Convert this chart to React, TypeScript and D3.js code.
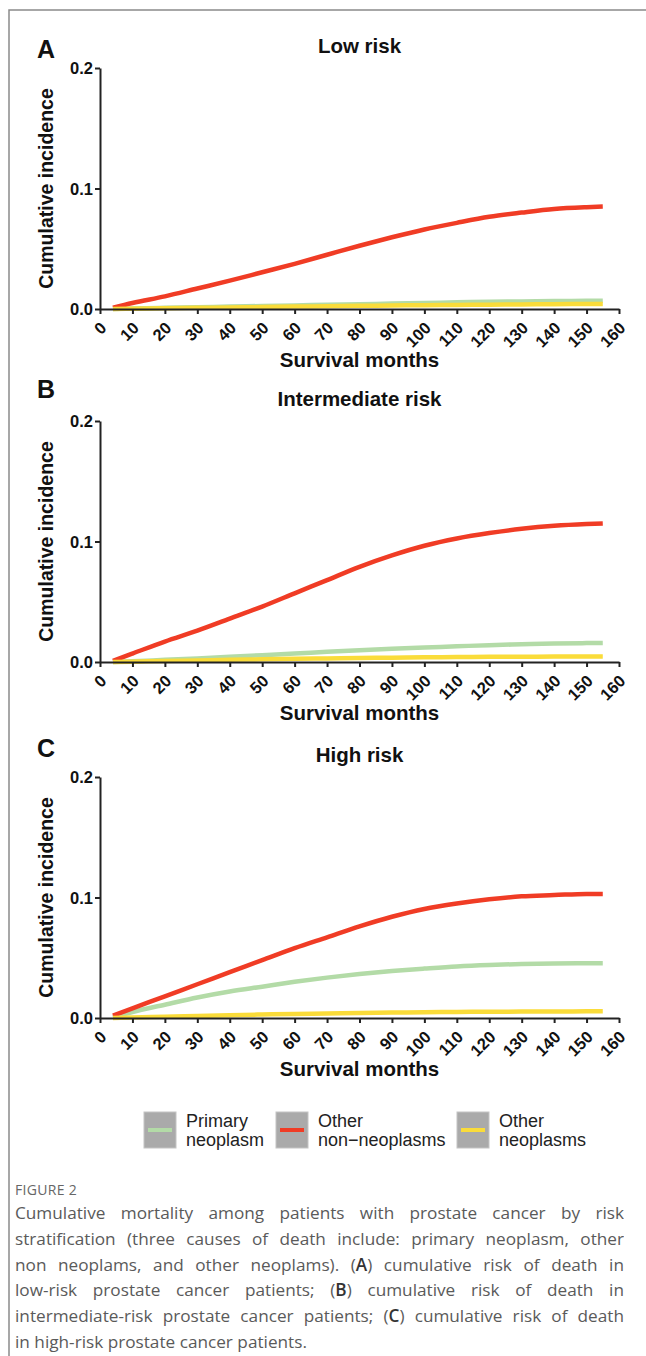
import { useEffect, useRef } from "react";
import * as d3 from "d3";

// survival months at which the curves were read
const months = [4, 10, 20, 30, 40, 50, 60, 70, 80, 90, 100, 110, 120, 130, 140, 150, 155];

const xTicks = [0, 10, 20, 30, 40, 50, 60, 70, 80, 90, 100, 110, 120, 130, 140, 150, 160];
const yTicks = [0, 0.1, 0.2];

const seriesNames = ["Primary neoplasm", "Other non\u2212neoplasms", "Other neoplasms"];
const legendLines = [["Primary", "neoplasm"], ["Other", "non\u2212neoplasms"], ["Other", "neoplasms"]];

// A - low risk
const lowPrimary = [0, 0.0005, 0.001, 0.0015, 0.002, 0.0025, 0.003, 0.0035, 0.004, 0.0045, 0.005, 0.0055, 0.006, 0.0063, 0.0066, 0.0068, 0.0069];
const lowOtherNon = [0.001, 0.005, 0.0105, 0.017, 0.0235, 0.0305, 0.0375, 0.045, 0.0525, 0.0595, 0.066, 0.0715, 0.0765, 0.08, 0.083, 0.0845, 0.085];
const lowOtherNeo = [0, 0.0003, 0.0006, 0.001, 0.0013, 0.0016, 0.002, 0.0023, 0.0026, 0.0029, 0.0032, 0.0034, 0.0036, 0.0038, 0.004, 0.0041, 0.0041];

// B - intermediate risk
const midPrimary = [0, 0.0006, 0.0018, 0.003, 0.0043, 0.0057, 0.007, 0.0085, 0.0098, 0.011, 0.012, 0.013, 0.014, 0.0147, 0.0153, 0.0157, 0.0158];
const midOtherNon = [0.001, 0.007, 0.017, 0.026, 0.036, 0.046, 0.057, 0.068, 0.079, 0.0885, 0.0965, 0.1025, 0.107, 0.1105, 0.113, 0.1145, 0.115];
const midOtherNeo = [0, 0.0003, 0.0008, 0.0013, 0.0018, 0.0022, 0.0026, 0.003, 0.0033, 0.0036, 0.0039, 0.0041, 0.0043, 0.0044, 0.0045, 0.0045, 0.0045];

// C - high risk
const highPrimary = [0.0005, 0.005, 0.011, 0.017, 0.022, 0.026, 0.03, 0.0335, 0.0365, 0.039, 0.041, 0.0428, 0.044, 0.0448, 0.0453, 0.0455, 0.0455];
const highOtherNon = [0.002, 0.008, 0.018, 0.028, 0.038, 0.048, 0.058, 0.067, 0.076, 0.084, 0.0905, 0.095, 0.0985, 0.101, 0.102, 0.103, 0.103];
const highOtherNeo = [0, 0.0005, 0.001, 0.0017, 0.0023, 0.0029, 0.0034, 0.0038, 0.0042, 0.0045, 0.0048, 0.005, 0.0052, 0.0053, 0.0054, 0.0055, 0.0055];

const colors = ["#b3dba7", "#f03c25", "#fadc3a"];

const captionLines = [
  "Cumulative mortality among patients with prostate cancer by risk",
  "stratification (three causes of death include: primary neoplasm, other",
  "non neoplams, and other neoplams). (A) cumulative risk of death in",
  "low-risk prostate cancer patients; (B) cumulative risk of death in",
  "intermediate-risk prostate cancer patients; (C) cumulative risk of death",
  "in high-risk prostate cancer patients.",
];

const panels = [
  { letter: "A", title: "Low risk", top: 68, letterY: 58, data: [lowPrimary, lowOtherNon, lowOtherNeo] },
  { letter: "B", title: "Intermediate risk", top: 421, letterY: 398, data: [midPrimary, midOtherNon, midOtherNeo] },
  { letter: "C", title: "High risk", top: 777, letterY: 757, data: [highPrimary, highOtherNon, highOtherNeo] },
];

const W = 646;
const H = 1356;
const left = 100;
const right = 619;
const plotH = 241;
const font = "'Liberation Sans', Arial, sans-serif";

const Panel = ({ p }: { p: typeof panels[number] }) => {
  const ref = useRef<SVGGElement>(null);
  const x = d3.scaleLinear().domain([0, 160]).range([left, right]);
  const y = d3.scaleLinear().domain([0, 0.2]).range([p.top + plotH, p.top]);

  useEffect(() => {
    const g = d3.select(ref.current);
    g.selectAll("*").remove();

    const xa = g.append("g")
      .attr("transform", `translate(0,${p.top + plotH})`)
      .call(d3.axisBottom(x).tickValues(xTicks).tickSize(5).tickSizeOuter(0));
    xa.selectAll("text")
      .attr("y", null).attr("dy", null).attr("x", null)
      .attr("text-anchor", "end")
      .attr("transform", "translate(7,20) rotate(-45)");

    const ya = g.append("g")
      .attr("transform", `translate(${left},0)`)
      .call(d3.axisLeft(y).tickValues(yTicks).tickFormat(d3.format(".1f")).tickSize(5).tickSizeOuter(0));
    ya.selectAll("text").attr("x", -7).attr("dy", "0.36em");

    g.selectAll(".domain, .tick line").attr("stroke", "#222").attr("stroke-width", 2);
    g.selectAll(".tick text")
      .attr("fill", "#111")
      .attr("font-family", font)
      .attr("font-weight", "bold")
      .attr("font-size", 16.5);
  }, []);

  const line = d3.line<number>()
    .x((_, i) => x(months[i]))
    .y((d) => y(d))
    .curve(d3.curveMonotoneX);

  return (
    <g>
      <text x={37} y={p.letterY} fontFamily={font} fontWeight="bold" fontSize={25} fill="#111">{p.letter}</text>
      <text x={(left + right) / 2} y={p.top - 15} textAnchor="middle" fontFamily={font} fontWeight="bold" fontSize={20.5} fill="#111">{p.title}</text>
      <text transform={`translate(53,${p.top + plotH / 2}) rotate(-90)`} textAnchor="middle" fontFamily={font} fontWeight="bold" fontSize={19.5} fill="#111">Cumulative incidence</text>
      <text x={(left + right) / 2} y={p.top + plotH + 58} textAnchor="middle" fontFamily={font} fontWeight="bold" fontSize={20.5} fill="#111">Survival months</text>
      {p.data.map((s, i) => (
        <path key={seriesNames[i]} d={line(s) || ""} fill="none" stroke={colors[i]} strokeWidth={4.5} />
      ))}
      <g ref={ref} />
    </g>
  );
};

const legendX = [144, 276, 457];

const App = () => {
  return (
    <svg width={W} height={H} style={{ position: "absolute", left: 0, top: 0, background: "#fff" }}>
      <path d={`M${W},10 H9 V${H}`} fill="none" stroke="#8a8a8a" strokeWidth={1.5} />
      {panels.map((p) => <Panel key={p.letter} p={p} />)}

      {seriesNames.map((n, i) => (
        <g key={n}>
          <rect x={legendX[i]} y={1112} width={32} height={36} fill="#aaaaaa" stroke="#c4c4c4" strokeWidth={1} />
          <line x1={legendX[i] + 4} x2={legendX[i] + 28} y1={1130} y2={1130} stroke={colors[i]} strokeWidth={4} />
          <text x={legendX[i] + 42} y={1127} fontFamily={font} fontSize={18} fill="#222">{legendLines[i][0]}</text>
          <text x={legendX[i] + 42} y={1146} fontFamily={font} fontSize={18} fill="#222">{legendLines[i][1]}</text>
        </g>
      ))}

      <text x={15} y={1195} fontFamily="'Open Sans', sans-serif" fontSize={14} fill="#666" letterSpacing={0.3}>FIGURE 2</text>
      <foreignObject x={15} y={1200} width={609} height={155}>
        <div style={{ fontFamily: "'Open Sans', sans-serif", fontSize: 17.2, color: "#5a5a5a", lineHeight: "25.8px" }}>
          {captionLines.map((l, i) => (
            <div key={i} style={{ textAlign: "justify", textAlignLast: i < captionLines.length - 1 ? "justify" : "left", whiteSpace: "nowrap" }}>
              {l.split(/(\([ABC]\))/).map((part, j) =>
                /^\([ABC]\)$/.test(part)
                  ? <span key={j}>({<span style={{ color: "#333", fontWeight: 600 }}>{part[1]}</span>})</span>
                  : <span key={j}>{part}</span>
              )}
            </div>
          ))}
        </div>
      </foreignObject>
    </svg>
  );
};

export default App;
